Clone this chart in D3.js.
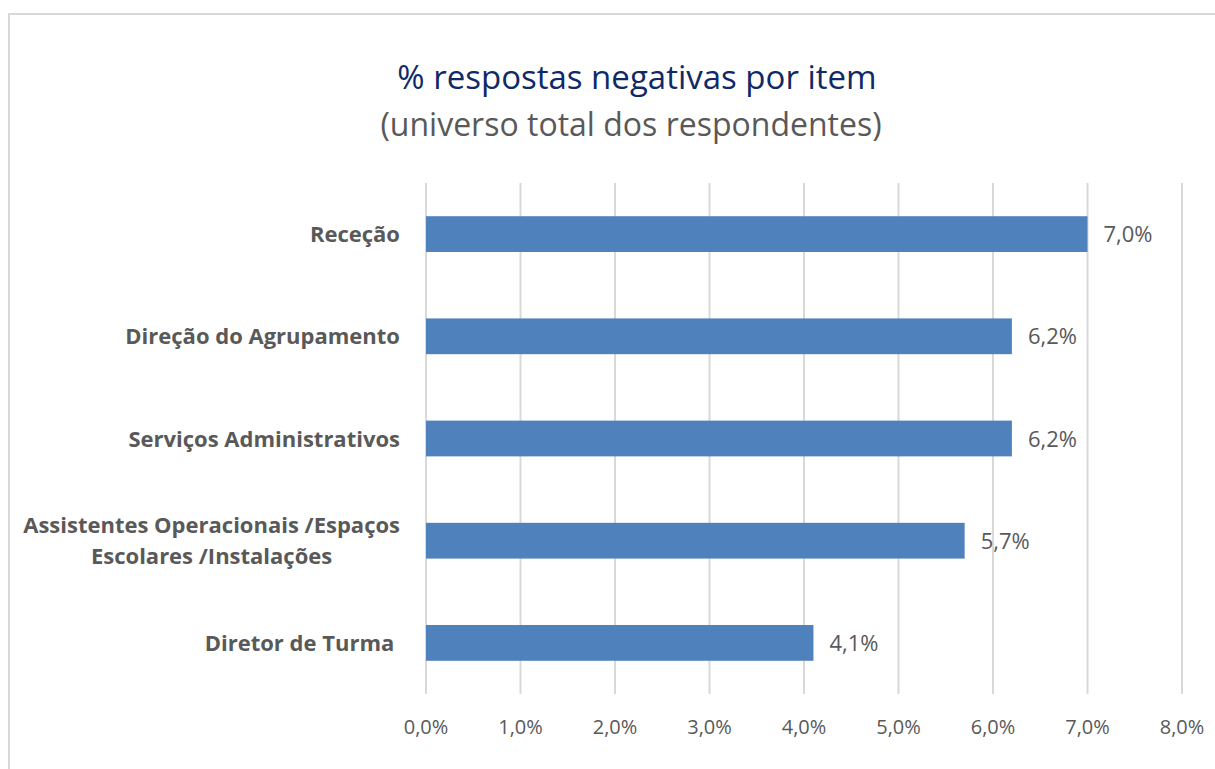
<!DOCTYPE html>
<html>
<head>
<meta charset="utf-8">
<script src="https://cdn.jsdelivr.net/npm/d3@7"></script>
<style>
  body { margin: 0; background: #fff; }
  svg { font-family: "Open Sans", sans-serif; }
</style>
</head>
<body>
<svg></svg>
<script>
var width = 1215;
var height = 769;

// data
var categories = [
  ["Receção"],
  ["Direção do Agrupamento"],
  ["Serviços Administrativos"],
  ["Assistentes Operacionais /Espaços", "Escolares /Instalações"],
  ["Diretor de Turma\u00a0"]
];
var values = [7.0, 6.2, 6.2, 5.7, 4.1];
var ticks = [0, 1, 2, 3, 4, 5, 6, 7, 8];
var title = "% respostas negativas por item";
var subtitle = "(universo total dos respondentes)";

var fmt = function(v) { return v.toFixed(1).replace(".", ",") + "%"; };

var svg = d3.select("svg")
    .attr("width", width)
    .attr("height", height);

// chart border
svg.append("rect")
    .attr("x", 9).attr("y", 14)
    .attr("width", 1220).attr("height", 770)
    .attr("fill", "white")
    .attr("stroke", "#d9d9d9")
    .attr("stroke-width", 2);

svg.append("text")
    .attr("x", 637).attr("y", 89)
    .attr("text-anchor", "middle")
    .attr("font-size", 33)
    .attr("fill", "#0f2a66")
    .text(title);
svg.append("text")
    .attr("x", 631).attr("y", 136)
    .attr("text-anchor", "middle")
    .attr("font-size", 32)
    .attr("fill", "#595959")
    .text(subtitle);

var x = d3.scaleLinear().domain([0, 8]).range([426, 1182]);
var y = d3.scaleBand()
    .domain(d3.range(categories.length))
    .range([183, 694])
    .paddingInner(0.65)
    .paddingOuter(0.325);

// grid
svg.append("g").selectAll("line")
    .data(ticks)
  .enter().append("line")
    .attr("x1", function(d) { return x(d); })
    .attr("x2", function(d) { return x(d); })
    .attr("y1", 183)
    .attr("y2", 694)
    .attr("stroke", "#d9d9d9")
    .attr("stroke-width", 2);

// tick labels
svg.append("g").selectAll("text")
    .data(ticks)
  .enter().append("text")
    .attr("x", function(d) { return x(d); })
    .attr("y", 734)
    .attr("text-anchor", "middle")
    .attr("font-size", 20)
    .attr("fill", "#595959")
    .text(function(d) { return fmt(d); });

// bars
svg.append("g").selectAll("rect")
    .data(values)
  .enter().append("rect")
    .attr("x", x(0))
    .attr("y", function(d, i) { return y(i); })
    .attr("width", function(d) { return x(d) - x(0); })
    .attr("height", y.bandwidth())
    .attr("fill", "#4f81bd");

// value labels
svg.append("g").selectAll("text")
    .data(values)
  .enter().append("text")
    .attr("x", function(d) { return x(d) + 16; })
    .attr("y", function(d, i) { return y(i) + y.bandwidth() / 2 + 8; })
    .attr("font-size", 22)
    .attr("fill", "#595959")
    .text(function(d) { return fmt(d); });

// category labels
var labels = svg.append("g").selectAll("g")
    .data(categories)
  .enter().append("g")
    .attr("transform", function(d, i) {
      return "translate(0," + (y(i) + y.bandwidth() / 2) + ")";
    });

labels.each(function(lines) {
  var g = d3.select(this);
  var lh = 31;
  var t = g.append("text")
      .attr("font-size", 22)
      .attr("font-weight", "bold")
      .attr("fill", "#595959")
      .attr("text-anchor", "end");
  lines.forEach(function(s, k) {
    t.append("tspan")
        .attr("x", 400)
        .attr("y", 8 + (k - (lines.length - 1) / 2) * lh)
        .text(s);
  });
  if (lines.length > 1) {
    // centre wrapped lines within the block
    var w = 0;
    t.selectAll("tspan").each(function() { w = Math.max(w, this.getComputedTextLength()); });
    t.attr("text-anchor", "middle");
    t.selectAll("tspan").attr("x", 400 - w / 2);
  }
});
</script>
</body>
</html>
